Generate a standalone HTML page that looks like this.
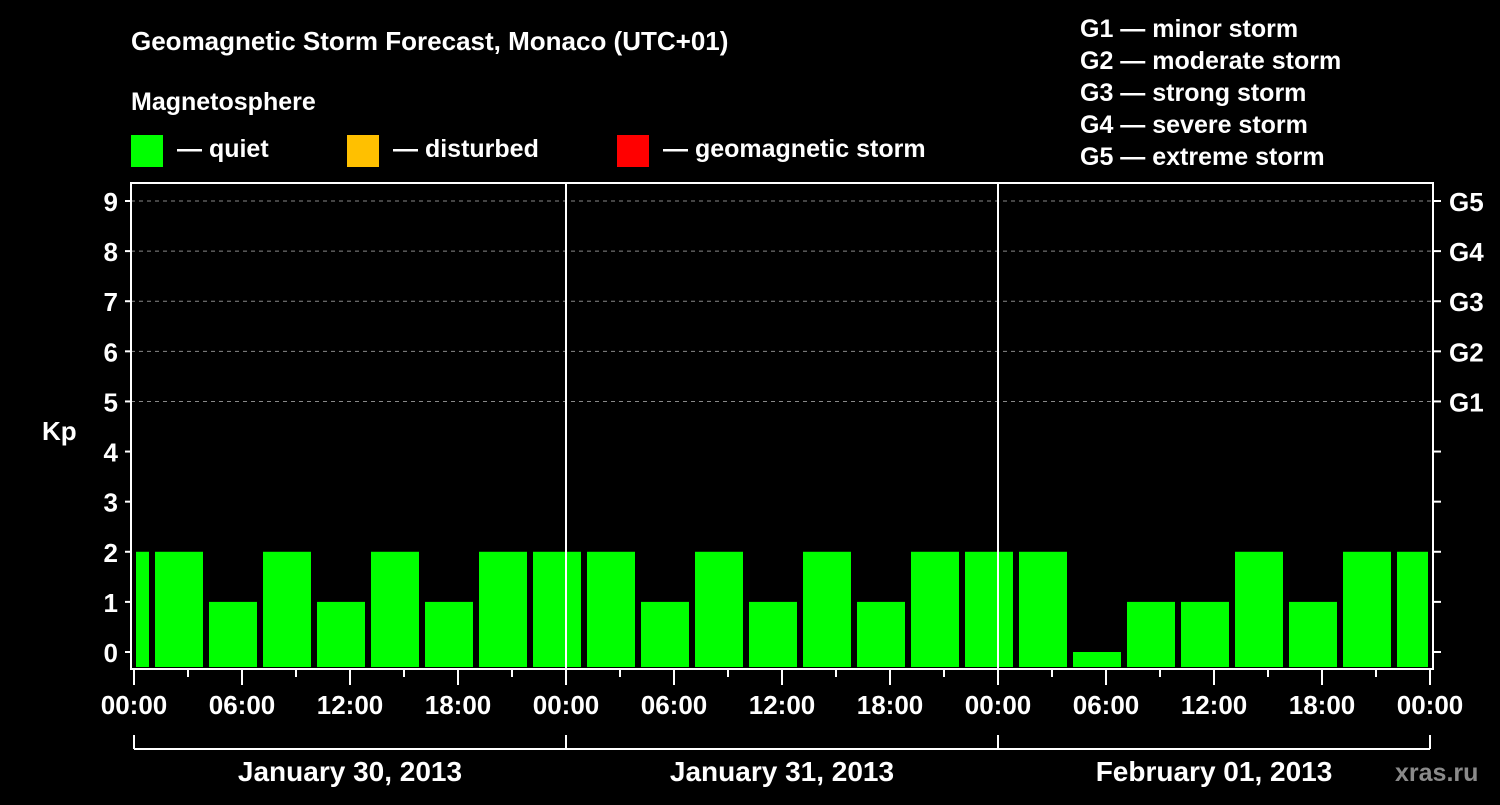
<!DOCTYPE html>
<html><head><meta charset="utf-8"><style>
body{margin:0;background:#000;width:1500px;height:800px;overflow:hidden}
svg text{font-family:"Liberation Sans",Arial,sans-serif;font-weight:bold;fill:#fff}
</style></head><body>
<svg id="c" width="1500" height="800" xmlns="http://www.w3.org/2000/svg">
<rect width="1500" height="800" fill="#000"/>
<text x="131" y="50" font-size="26">Geomagnetic Storm Forecast, Monaco (UTC+01)</text>
<text x="131" y="110" font-size="25">Magnetosphere</text>
<g><rect x="131" y="135" width="32" height="32" fill="#00ff00"/><text x="177" y="157" font-size="25">— quiet</text></g>
<g><rect x="347" y="135" width="32" height="32" fill="#ffc000"/><text x="393" y="157" font-size="25">— disturbed</text></g>
<g><rect x="617" y="135" width="32" height="32" fill="#ff0000"/><text x="663" y="157" font-size="25">— geomagnetic storm</text></g>
<g font-size="25">
<text x="1080" y="37">G1 — minor storm</text>
<text x="1080" y="69">G2 — moderate storm</text>
<text x="1080" y="101">G3 — strong storm</text>
<text x="1080" y="133">G4 — severe storm</text>
<text x="1080" y="165">G5 — extreme storm</text>
</g>
<text x="42" y="440" font-size="26">Kp</text>
<text x="1395" y="781" font-size="25" fill="#888" style="fill:#8a8a8a">xras.ru</text>
<g id="grid"></g><g id="bars"></g><g id="axes"></g>
</svg>
<script>
const kpValues=[2,2,1,2,1,2,1,2,2,2,1,2,1,2,1,2,2,2,0,1,1,2,1,2,2];
const binStartHours=[-2,1,4,7,10,13,16,19,22,25,28,31,34,37,40,43,46,49,52,55,58,61,64,67,70];
const yTicks=[0,1,2,3,4,5,6,7,8,9];
const gLabels=["G1","G2","G3","G4","G5"];
const xTickLabels=["00:00","06:00","12:00","18:00","00:00","06:00","12:00","18:00","00:00","06:00","12:00","18:00","00:00"];
const dayLabels=["January 30, 2013","January 31, 2013","February 01, 2013"];
const NS="http://www.w3.org/2000/svg";
const X0=134,X1=1430,L=131,R=1433,T=183,B=669;
const x=h=>X0+(X1-X0)*h/72;
const y=v=>652-v*(652-201)/9;
function mk(p,tag,a){const e=document.createElementNS(NS,tag);for(const k in a)e.setAttribute(k,a[k]);document.getElementById(p).appendChild(e);return e;}
// grid
for(let v=5;v<=9;v++){const e=mk('grid','line',{x1:L,x2:R,y1:y(v),y2:y(v),stroke:'#888','stroke-dasharray':'4,4','stroke-width':1});

}
// bars
kpValues.forEach((v,i)=>{const col=v>=5?'#ff0000':v>=4?'#ffc000':'#00ff00';
let a=x(binStartHours[i])+3,b=x(binStartHours[i]+3)-3;a=Math.max(a,X0+2);b=Math.min(b,X1-2);
const top=y(v),bot=B-2;
const e=mk('bars','rect',{x:a,y:Math.min(top,bot),width:b-a,height:Math.max(0,bot-top),fill:col});

});
// frame & day separators
let f=mk('axes','rect',{x:L,y:T,width:R-L,height:B-T,fill:'none',stroke:'#fff','stroke-width':2});


[24,48].forEach(h=>{const e=mk('axes','line',{x1:x(h),x2:x(h),y1:T,y2:B,stroke:'#fff','stroke-width':2});

});
yTicks.forEach(v=>{mk('axes','line',{x1:L-6,x2:L,y1:y(v),y2:y(v),stroke:'#fff','stroke-width':2});
mk('axes','line',{x1:R,x2:R+8,y1:y(v),y2:y(v),stroke:'#fff','stroke-width':2});
const t=mk('axes','text',{x:L-13,y:y(v)+10,'font-size':26,'text-anchor':'end'});t.textContent=v;

});
gLabels.forEach((g,i)=>{const t=mk('axes','text',{x:R+16,y:y(5+i)+10,'font-size':26});t.textContent=g;

});
for(let h=0;h<=72;h+=3){const maj=h%6==0;mk('axes','line',{x1:x(h),x2:x(h),y1:B,y2:B+(maj?16:8),stroke:'#fff','stroke-width':2});}
xTickLabels.forEach((s,i)=>{const t=mk('axes','text',{x:x(i*6),y:714,'font-size':26,'text-anchor':'middle'});t.textContent=s;

});
mk('axes','line',{x1:X0,x2:X1,y1:749,y2:749,stroke:'#fff','stroke-width':2});
[0,24,48,72].forEach(h=>mk('axes','line',{x1:x(h),x2:x(h),y1:735,y2:749,stroke:'#fff','stroke-width':2}));
dayLabels.forEach((s,i)=>{const t=mk('axes','text',{x:x(i*24+12)+(i==2?-0:0),y:781,'font-size':28,'text-anchor':'middle'});t.textContent=s;

});
</script>
</body></html>
